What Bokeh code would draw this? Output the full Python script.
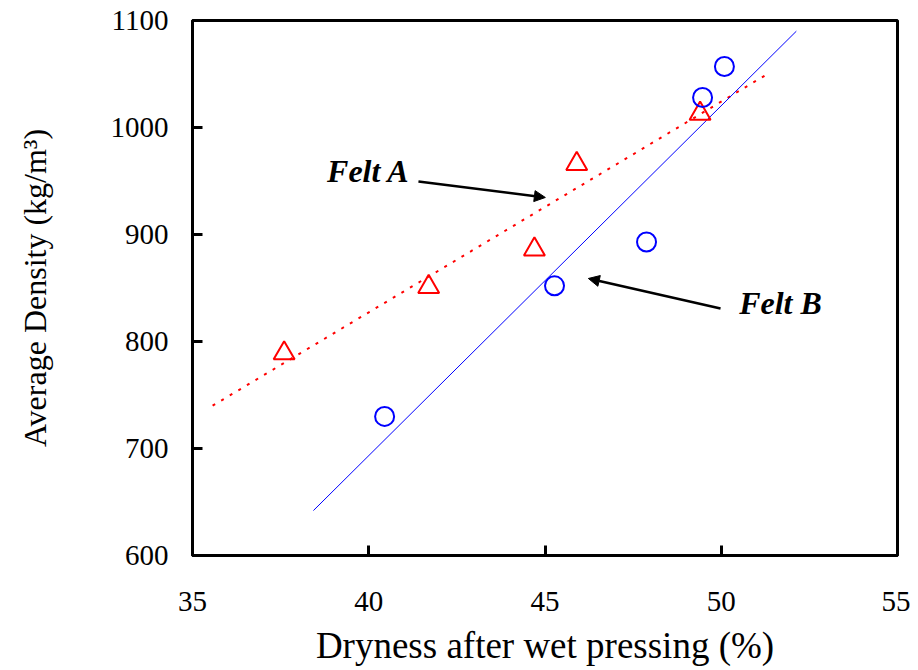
from bokeh.plotting import figure
from bokeh.models import Range1d, Arrow, NormalHead, Label, FixedTicker
from bokeh.embed import file_html
from bokeh.resources import INLINE

# data
felt_a_x = [37.6, 41.7, 44.7, 45.9, 49.4]
felt_a_y = [789, 851, 886, 966, 1013]
felt_b_x = [40.45, 45.27, 47.88, 49.47, 50.09]
felt_b_y = [730, 852, 893, 1028, 1057]
fit_a_x = [35.57, 51.26]
fit_a_y = [740, 1049]
fit_b_x = [38.43, 52.13]
fit_b_y = [642, 1090]
x_ticks = [35, 40, 45, 50, 55]
y_ticks = [600, 700, 800, 900, 1000, 1100]

FONT = "Liberation Serif"

p = figure(width=910, height=668, output_backend="svg", toolbar_location=None,
           x_range=Range1d(35, 55), y_range=Range1d(600, 1100),
           min_border_left=192, min_border_right=13, min_border_top=20, min_border_bottom=112)
p.background_fill_color = "white"
p.border_fill_color = "white"
p.outline_line_color = "black"
p.outline_line_width = 3
p.xgrid.visible = False
p.ygrid.visible = False

for ax in (p.xaxis[0], p.yaxis[0]):
    ax.axis_line_width = 3
    ax.axis_line_color = "black"
    ax.major_tick_in = 10
    ax.major_tick_out = 0
    ax.major_tick_line_width = 3
    ax.major_tick_line_color = "black"
    ax.minor_tick_line_color = None
    ax.major_label_text_font = FONT
    ax.major_label_text_font_size = "29px"
    ax.major_label_text_color = "black"
    ax.axis_label_text_font = FONT
    ax.axis_label_text_font_style = "normal"
    ax.axis_label_text_color = "black"

p.xaxis.ticker = FixedTicker(ticks=x_ticks)
p.yaxis.ticker = FixedTicker(ticks=y_ticks)
p.xaxis.major_label_standoff = 36
p.yaxis.major_label_standoff = 24
p.xaxis.axis_label = "Dryness after wet pressing (%)"
p.yaxis.axis_label = "Average Density (kg/m³)"
p.xaxis.axis_label_text_font_size = "37px"
p.yaxis.axis_label_text_font_size = "32px"
p.xaxis.axis_label_standoff = 11
p.yaxis.axis_label_standoff = 55

# trend lines
p.line(fit_a_x, fit_a_y, line_color="red", line_width=2, line_dash="3 7")
p.line(fit_b_x, fit_b_y, line_color="blue", line_width=1)

# markers
p.scatter(felt_a_x, felt_a_y, marker="triangle", size=21, fill_color=None,
          line_color="red", line_width=2)
p.scatter(felt_b_x, felt_b_y, marker="circle", size=19, fill_color=None,
          line_color="blue", line_width=2)

# annotations
p.add_layout(Arrow(end=NormalHead(size=11, fill_color="black", line_color="black"),
                   x_start=41.41, y_start=949.5, x_end=45.01, y_end=934.6,
                   line_width=2.5, line_color="black"))
p.add_layout(Arrow(end=NormalHead(size=11, fill_color="black", line_color="black"),
                   x_start=49.98, y_start=830.8, x_end=46.23, y_end=858.9,
                   line_width=2.5, line_color="black"))
p.add_layout(Label(x=39.99, y=958.9, text="Felt A", text_font=FONT, text_font_size="32px",
                   text_font_style="bold italic", text_align="center", text_baseline="middle",
                   text_color="black"))
p.add_layout(Label(x=51.68, y=836.4, text="Felt B", text_font=FONT, text_font_size="32px",
                   text_font_style="bold italic", text_align="center", text_baseline="middle",
                   text_color="black"))

open("out.html", "w").write(file_html(p, INLINE))
